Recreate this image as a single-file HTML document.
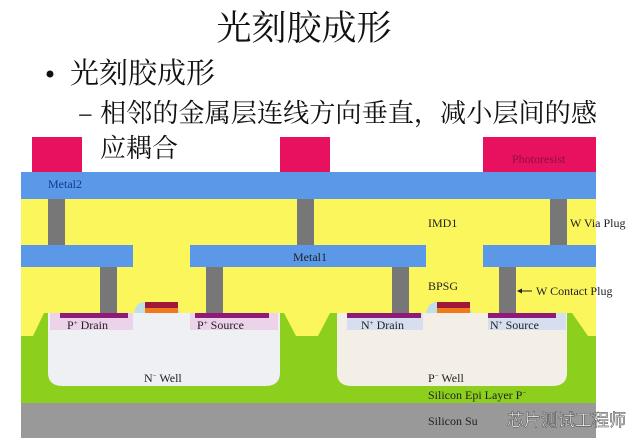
<!DOCTYPE html>
<html><head><meta charset="utf-8"><style>
html,body{margin:0;padding:0;background:#fff;width:640px;height:448px;overflow:hidden}
svg{display:block}
.c{font-family:"Noto Serif CJK SC",serif;fill:#111}
.l{font-family:"Liberation Serif",serif;font-size:12px;fill:#222}
</style></head><body>
<svg width="640" height="448" viewBox="0 0 640 448" xmlns="http://www.w3.org/2000/svg">
<text class="c" x="304" y="40" font-size="35" text-anchor="middle">光刻胶成形</text>
<circle cx="50" cy="74" r="3.5" fill="#111"/>
<text class="c" x="70" y="83" font-size="29">光刻胶成形</text>
<text class="c" x="78" y="122" font-size="26">–</text>
<text class="c" x="100" y="122" font-size="26" textLength="497" lengthAdjust="spacingAndGlyphs">相邻的金属层连线方向垂直，减小层间的感</text>
<text class="c" x="100" y="157" font-size="26">应耦合</text>
<rect x="32" y="137" width="50" height="36" fill="#e8115f"/>
<rect x="280" y="137" width="50" height="36" fill="#e8115f"/>
<rect x="483" y="137" width="113" height="36" fill="#e8115f"/>
<text class="l" x="512" y="163" style="fill:#8a1040">Photoresist</text>
<rect x="21" y="199" width="575" height="140" fill="#fbf65c"/>
<path d="M21,336 L21,403 L596,403 L596,336 L588,336 L572,313 L330,313 L318,336 L296,336 L284,313 L44,313 L33,336 Z" fill="#8ccf1c"/>
<rect x="21" y="403" width="575" height="35" fill="#999"/>
<path d="M48,313 L280,313 L280,373 Q280,386 265,386 L63,386 Q48,386 48,373 Z" fill="#eef0f3"/>
<path d="M337,313 L567,313 L567,373 Q567,386 552,386 L352,386 Q337,386 337,373 Z" fill="#f4efe6"/>
<rect x="50" y="313" width="83" height="17" fill="#ecd3ea"/>
<rect x="190" y="313" width="88" height="17" fill="#ecd3ea"/>
<rect x="347" y="313" width="76" height="17" fill="#d6dff0"/>
<rect x="488" y="313" width="78" height="17" fill="#d6dff0"/>
<rect x="60" y="313" width="68" height="5" fill="#8e1a7a"/>
<rect x="195" y="313" width="74" height="5" fill="#8e1a7a"/>
<rect x="347" y="313" width="74" height="5" fill="#8e1a7a"/>
<rect x="488" y="313" width="68" height="5" fill="#8e1a7a"/>
<path d="M134,313 Q136,302 145,302 L168,302 Q177,302 180,313 Z" fill="#bfe0e6"/>
<rect x="145" y="302" width="33" height="6" fill="#a0173a"/>
<rect x="145" y="308" width="33" height="5" fill="#f07a1a"/>
<path d="M426,313 Q428,302 437,302 L460,302 Q469,302 472,313 Z" fill="#bfe0e6"/>
<rect x="437" y="302" width="33" height="6" fill="#a0173a"/>
<rect x="437" y="308" width="33" height="5" fill="#f07a1a"/>
<rect x="21" y="172" width="575" height="27" fill="#5b98e8"/>
<text class="l" x="48" y="188" style="fill:#123a8a">Metal2</text>
<rect x="48" y="199" width="17" height="46" fill="#777"/>
<rect x="297" y="199" width="17" height="46" fill="#777"/>
<rect x="550" y="199" width="17" height="46" fill="#777"/>
<rect x="21" y="245" width="112" height="22" fill="#5b98e8"/>
<rect x="190" y="245" width="236" height="22" fill="#5b98e8"/>
<rect x="483" y="245" width="113" height="22" fill="#5b98e8"/>
<text class="l" x="293" y="261">Metal1</text>
<rect x="100" y="267" width="17" height="46" fill="#777"/>
<rect x="206" y="267" width="17" height="46" fill="#777"/>
<rect x="392" y="267" width="17" height="46" fill="#777"/>
<rect x="499" y="267" width="17" height="46" fill="#777"/>
<text class="l" x="428" y="227">IMD1</text>
<text class="l" x="570" y="227">W Via Plug</text>
<text class="l" x="428" y="290">BPSG</text>
<line x1="518" y1="291" x2="532" y2="291" stroke="#222" stroke-width="1"/>
<path d="M517,291 L522,288.5 L522,293.5 Z" fill="#222"/>
<text class="l" x="536" y="295">W Contact Plug</text>
<text class="l" x="67" y="329">P<tspan font-size="7" dy="-4">+</tspan><tspan dy="4"> Drain</tspan></text>
<text class="l" x="197" y="329">P<tspan font-size="7" dy="-4">+</tspan><tspan dy="4"> Source</tspan></text>
<text class="l" x="361" y="329">N<tspan font-size="7" dy="-4">+</tspan><tspan dy="4"> Drain</tspan></text>
<text class="l" x="490" y="329">N<tspan font-size="7" dy="-4">+</tspan><tspan dy="4"> Source</tspan></text>
<text class="l" x="144" y="382">N<tspan font-size="7" dy="-4">−</tspan><tspan dy="4"> Well</tspan></text>
<text class="l" x="428" y="382">P<tspan font-size="7" dy="-4">−</tspan><tspan dy="4"> Well</tspan></text>
<text class="l" x="428" y="399">Silicon Epi Layer  P<tspan font-size="7" dy="-4">−</tspan></text>
<text class="l" x="428" y="425">Silicon Su</text>
<text x="507" y="426" font-size="17" font-family="'Noto Sans CJK SC',sans-serif" fill="#fff" stroke="#555" stroke-width="0.6">芯片测试工程师</text>
</svg>
</body></html>
